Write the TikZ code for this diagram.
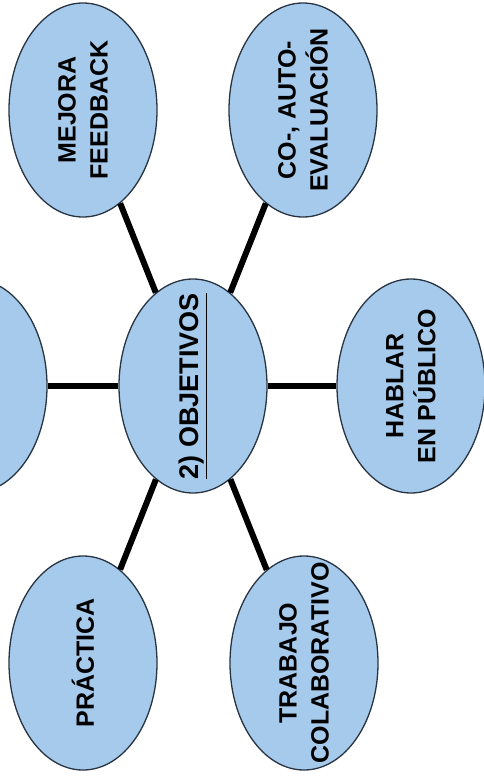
\documentclass[tikz,border=0pt]{standalone}
\usepackage{fontspec}
\setmainfont{Liberation Sans}
\usepackage{tikz}
\usetikzlibrary{shapes.geometric}
\definecolor{bubblue}{RGB}{166,202,236}
\definecolor{bubline}{RGB}{40,52,66}

\begin{document}
\begin{tikzpicture}[x=1pt, y=-1pt,
    bubble/.style={ellipse, draw=bubline, line width=1.3pt, fill=bubblue, minimum width=148pt, minimum height=214pt, inner sep=0pt},
    bubtext/.style={rotate=90, align=center, font=\fontsize{25}{32}\selectfont\bfseries, inner sep=0pt},
    link/.style={line width=6pt}]

    \useasboundingbox (0, 0) rectangle (484, 781);

    \node[bubble] (obj) at (193, 386) {};
    \node[bubble] (izq) at (-27, 386) {};
    \node[bubble] (mejora) at (83, 110) {};
    \node[bubble] (auto) at (303, 110) {};
    \node[bubble] (hablar) at (411, 386) {};
    \node[bubble] (practica) at (83, 663) {};
    \node[bubble] (trabajo) at (304, 663) {};
    \draw[link] (obj) -- (izq);
    \draw[link] (obj) -- (mejora);
    \draw[link] (obj) -- (auto);
    \draw[link] (obj) -- (hablar);
    \draw[link] (obj) -- (practica);
    \draw[link] (obj) -- (trabajo);

    \node[bubtext, font=\fontsize{27}{32}\selectfont\bfseries] (obj-t) at (obj) {\underline{2) OBJETIVOS}};
    \node[bubtext] (mejora-t) at (mejora) {MEJORA\\FEEDBACK};
    \node[bubtext] (auto-t) at (auto) {CO-, AUTO-\\EVALUACIÓN};
    \node[bubtext] (hablar-t) at (hablar) {HABLAR\\EN PÚBLICO};
    \node[bubtext] (practica-t) at (practica) {PRÁCTICA};
    \node[bubtext] (trabajo-t) at (trabajo) {TRABAJO\\COLABORATIVO};
\end{tikzpicture}
\end{document}
